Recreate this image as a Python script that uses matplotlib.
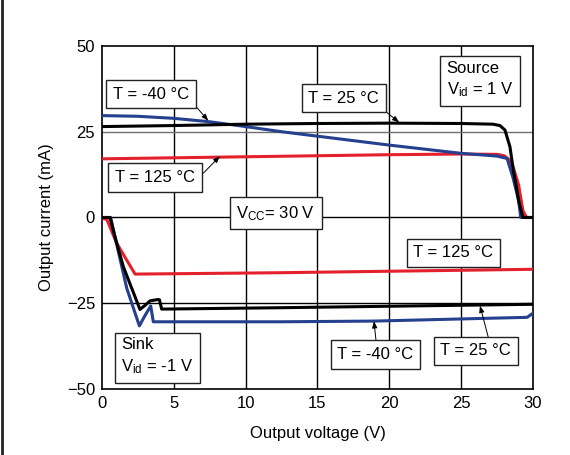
import matplotlib
matplotlib.use("Agg")
import matplotlib.pyplot as plt
from matplotlib.lines import Line2D

plt.rcParams["font.family"] = ["Liberation Sans", "DejaVu Sans"]
plt.rcParams["mathtext.fontset"] = "custom"
plt.rcParams["mathtext.rm"] = "Liberation Sans"
plt.rcParams["mathtext.it"] = "Liberation Sans:italic"

# ── Source (Vid = 1 V) ───────────────────────────────────────────────────────
src_v_25 = [0, 5, 10, 15, 20, 25, 27.2, 27.7, 28.05, 28.4, 28.6, 28.8, 29.0, 29.3, 30]
src_i_25 = [26.5, 26.8, 27.2, 27.4, 27.5, 27.4, 27.2, 26.8, 25.5, 20.6, 14.7, 10.0, 5.0, 0, 0]

src_v_m40 = [0, 2.5, 5, 7.5, 10, 12.5, 15, 17.5, 20, 22.5, 25, 27.5, 28.2, 28.6, 29.0, 29.15, 30]
src_i_m40 = [29.7, 29.5, 28.9, 27.9, 26.5, 25.0, 23.7, 22.4, 21.1, 19.9, 18.7, 17.9, 17.2, 11.8, 5.0, 0, 0]

src_v_125 = [0, 5, 10, 15, 20, 25, 27.5, 28.0, 28.3, 28.6, 29.0, 29.3, 29.56, 30]
src_i_125 = [17.1, 17.4, 17.7, 18.0, 18.3, 18.5, 18.4, 18.0, 17.0, 15.0, 9.5, 2.0, 0, 0]

# ── Sink (Vid = -1 V) ────────────────────────────────────────────────────────
snk_v_25 = [0, 0.56, 0.9, 1.48, 2.64, 3.0, 3.34, 3.9, 4.0, 4.15, 12.4, 30]
snk_i_25 = [0, 0, -5.6, -14.3, -26.8, -25.6, -24.3, -23.9, -24.0, -26.7, -26.3, -25.3]

snk_v_m40 = [0, 0.6, 0.9, 1.72, 2.6, 3.0, 3.39, 3.57, 12.4, 18.9, 29.6, 30]
snk_i_m40 = [0, 0, -5.6, -20.6, -31.6, -28.5, -25.8, -30.4, -30.4, -30.2, -29.1, -27.9]

snk_v_125 = [0, 0.33, 1.02, 2.3, 12.4, 30]
snk_i_125 = [-0.3, -0.5, -7.5, -16.5, -16.1, -15.1]

x_ticks = [0, 5, 10, 15, 20, 25, 30]
y_ticks = [-50, -25, 0, 25, 50]

C_BLACK = "#000000"
C_BLUE = "#24408e"
C_RED = "#e3202b"
FS = 12

fig = plt.figure(figsize=(5.7, 4.55), dpi=100)
ax = fig.add_axes([0.179, 0.145, 0.756, 0.754])

# grid
for xv in x_ticks[1:-1]:
    ax.axvline(xv, color="black", lw=1.0, zorder=1)
ax.axhline(0, color="black", lw=1.0, zorder=1)
ax.axhline(-25, color="black", lw=1.0, zorder=1)
ax.axhline(25, color="#707070", lw=1.0, zorder=1)

lw = 2.2
ax.plot(src_v_125, src_i_125, color=C_RED, lw=lw, zorder=3)
ax.plot(src_v_m40, src_i_m40, color=C_BLUE, lw=lw, zorder=3)
ax.plot(src_v_25, src_i_25, color=C_BLACK, lw=lw, zorder=4)
ax.plot(snk_v_125, snk_i_125, color=C_RED, lw=lw, zorder=3)
ax.plot(snk_v_m40, snk_i_m40, color=C_BLUE, lw=lw, zorder=3)
ax.plot(snk_v_25, snk_i_25, color=C_BLACK, lw=lw, zorder=4)

ax.set_xlim(0, 30)
ax.set_ylim(-50, 50)
ax.set_xticks(x_ticks)
ax.set_yticks(y_ticks)
ax.tick_params(length=0, labelsize=FS, pad=5, colors="black")
for sp in ax.spines.values():
    sp.set_color("black")
    sp.set_linewidth(1.2)

ax.set_xlabel("Output voltage (V)", fontsize=FS, labelpad=11)
ax.set_ylabel("Output current (mA)", fontsize=FS, labelpad=9)

box = dict(boxstyle="square,pad=0.4", facecolor="white", edgecolor="#222222", lw=1.0)


def label(x, y, s, ha="center"):
    ax.text(x, y, s, fontsize=FS, ha=ha, va="center", bbox=box, zorder=6,
            linespacing=1.35)


def pointer(tail, head):
    ax.annotate("", xy=head, xytext=tail, zorder=5,
                arrowprops=dict(arrowstyle="-|>,head_length=0.4,head_width=0.15",
                                color="black", lw=0.7, shrinkA=0, shrinkB=0))


label(3.40, 35.9, "T = -40 °C")
pointer((6.59, 32.1), (7.4, 28.2))
label(3.69, 11.7, "T = 125 °C")
pointer((7.05, 12.9), (8.21, 17.9))
label(16.82, 34.8, "T = 25 °C")
pointer((19.77, 30.8), (20.69, 27.7))
label(24.0, 40.1, "Source\nV$_{\\mathrm{id}}$ = 1 V", ha="left")
label(12.11, 1.2, "V$_{\\mathrm{CC}}$= 30 V")
label(24.45, -10.3, "T = 125 °C")
label(19.04, -39.9, "T = -40 °C")
pointer((19.07, -35.7), (18.93, -30.2))
label(26.02, -38.9, "T = 25 °C")
pointer((26.89, -34.9), (26.31, -25.7))
label(1.35, -40.6, "Sink\nV$_{\\mathrm{id}}$ = -1 V", ha="left")

# left edge rule
fig.add_artist(Line2D([0.004, 0.004], [0, 1], color="#222222", lw=2.0,
                      transform=fig.transFigure))

fig.savefig("out.png", dpi=100)
